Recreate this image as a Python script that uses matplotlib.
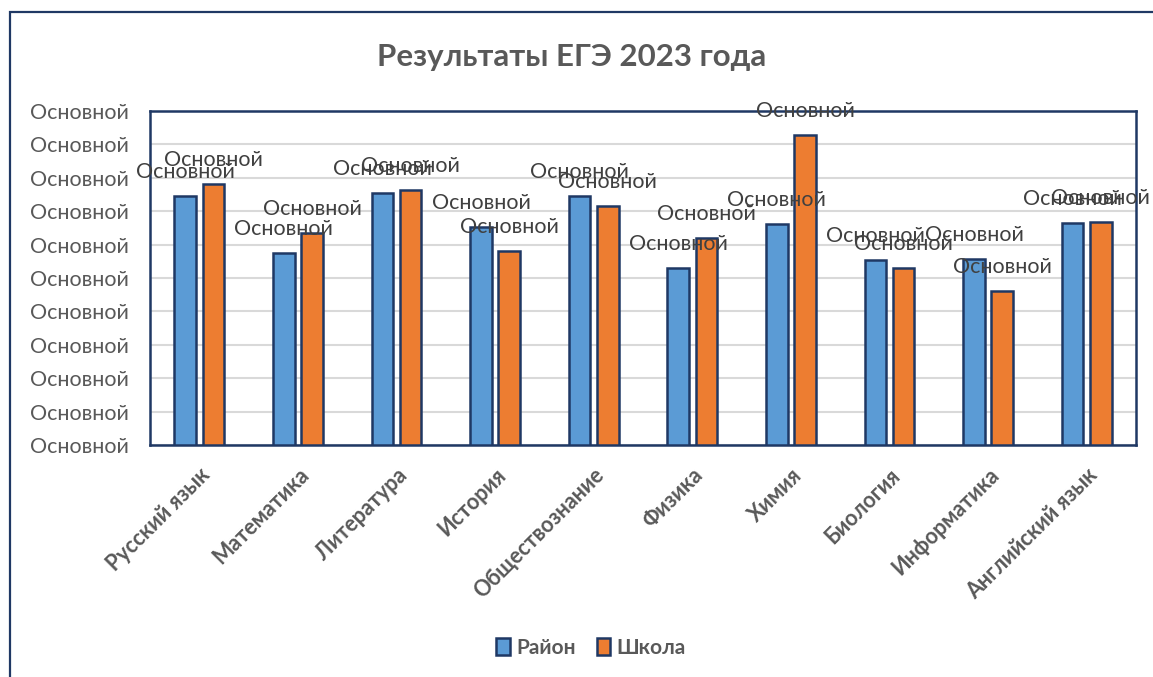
import matplotlib
matplotlib.use("Agg")
import matplotlib.pyplot as plt
import numpy as np
from matplotlib.patches import Rectangle

categories = ["Русский язык", "Математика", "Литература", "История", "Обществознание",
              "Физика", "Химия", "Биология", "Информатика", "Английский язык"]
rayon = [74.6, 57.5, 75.4, 65.3, 74.6, 53.0, 66.2, 55.4, 55.7, 66.5]
shkola = [78.1, 63.5, 76.3, 58.1, 71.6, 62.0, 92.8, 53.0, 46.1, 66.8]
series_names = ["Район", "Школа"]
title = "Результаты ЕГЭ 2023 года"
tick_text = "Основной"
yticks = list(range(0, 101, 10))

BLUE = "#5B9BD5"
ORANGE = "#ED7D31"
EDGE = "#1F3864"
GRAY = "#595959"
FONT = ["Lato", "DejaVu Sans"]

plt.rcParams['font.family'] = FONT

W, H = 1153, 677
fig = plt.figure(figsize=(W / 100, H / 100), dpi=100)
ax = fig.add_axes([150 / W, 1 - 445 / H, (1136 - 150) / W, (445 - 111) / H])

# frame around the chart
fig.patches.append(Rectangle((9.5 / W, -0.05), 1.2, 1 - 12 / H + 0.05, transform=fig.transFigure,
                             fill=False, edgecolor=EDGE, linewidth=1.6, zorder=0))

x = np.arange(len(categories))
w = 0.22
off = 0.143
b1 = ax.bar(x - off, rayon, w, color=BLUE, edgecolor=EDGE, linewidth=1.8, label=series_names[0], zorder=3)
b2 = ax.bar(x + off, shkola, w, color=ORANGE, edgecolor=EDGE, linewidth=1.8, label=series_names[1], zorder=3)

for bars in (b1, b2):
    ax.bar_label(bars, labels=[tick_text] * len(bars), padding=10, fontsize=15.5,
                 color="#404040", zorder=4, clip_on=False)

ax.set_xlim(-0.5, len(categories) - 0.5)
ax.set_ylim(0, 100)
ax.set_yticks(yticks)
ax.set_yticklabels([tick_text] * len(yticks), fontsize=15.5, color=GRAY)
ax.tick_params(axis='y', length=0, pad=15)
ax.set_xticks(x)
ax.set_xticklabels(categories, rotation=45, ha='right', rotation_mode='anchor',
                   fontsize=15.5, fontweight='bold', color=GRAY)
ax.tick_params(axis='x', length=0, pad=14)
ax.grid(axis='y', color="#D9D9D9", linewidth=1.5, zorder=0)
for s in ax.spines.values():
    s.set_color(EDGE)
    s.set_linewidth(1.8)

fig.text(572 / W, 1 - 57 / H, title, ha='center', va='center', fontsize=22.5,
         fontweight='bold', color=GRAY)

leg = fig.legend(loc='center', bbox_to_anchor=(591 / W, 1 - 648 / H), ncol=2, frameon=False,
                 prop={'size': 15, 'weight': 'bold'}, handlelength=0.65, handleheight=0.9,
                 handletextpad=0.3, columnspacing=1.0)
for t in leg.get_texts():
    t.set_color(GRAY)

fig.savefig("out.png", dpi=100)
